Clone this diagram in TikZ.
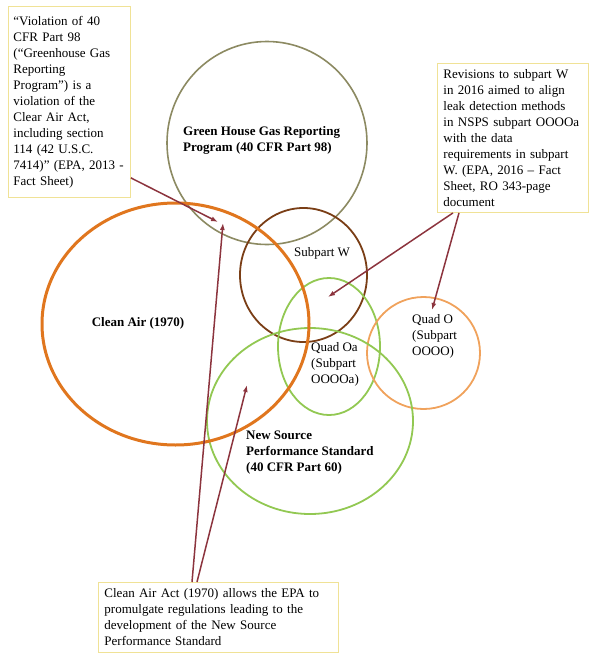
\documentclass[tikz,border=0pt]{standalone}
\usepackage{fontspec}
\setmainfont{Liberation Serif}
\usepackage{tikz}
\usetikzlibrary{shapes.geometric}
\usetikzlibrary{arrows.meta}
\definecolor{ghgcol}{RGB}{140,138,98}
\definecolor{caacol}{RGB}{224,118,30}
\definecolor{subwcol}{RGB}{122,62,22}
\definecolor{quadgreen}{RGB}{146,200,82}
\definecolor{quadocol}{RGB}{240,162,92}
\definecolor{arrcol}{RGB}{140,52,62}
\definecolor{notecol}{RGB}{240,226,150}
\tikzset{ set_ring/.style = {ellipse, inner sep=0pt, outer sep=0pt} }
\tikzset{ note_box/.style = {rectangle, draw=notecol, line width=0.9pt, fill=white, align=left, inner xsep=6pt, anchor=north west, font=\fontsize{13}{16}\selectfont} }
\tikzset{ set_label/.style = {align=left, inner sep=0pt, font=\fontsize{13}{16}\selectfont} }
\tikzset{ note_arrow/.style = {draw=arrcol, line width=1.5pt, -{Latex[length=7pt,width=5pt]}} }

\begin{document}
\begin{tikzpicture}[x=1pt,y=-1pt]
            \useasboundingbox (0,0) rectangle (600,661);
            % sets
                    \node [style=set_ring, draw=ghgcol, line width=1.6pt, minimum width=200, minimum height=203] (ghg) at (267,143) {};
                    \node [style=set_ring, draw=subwcol, line width=1.8pt, minimum width=127, minimum height=134] (subw) at (303.5,275) {};
                    \node [style=set_ring, draw=quadgreen, line width=1.8pt, minimum width=102, minimum height=137] (quadoa) at (329,346.5) {};
                    \node [style=set_ring, draw=quadocol, line width=1.8pt, minimum width=113, minimum height=112] (quado) at (423.5,353) {};
                    \node [style=set_ring, draw=quadgreen, line width=1.8pt, minimum width=206, minimum height=186] (nsps) at (310,421) {};
                    \node [style=set_ring, draw=caacol, line width=3pt, minimum width=267, minimum height=242] (caa) at (175.5,324) {};
            % set labels
                    \node [style=set_label, anchor=west, font=\fontsize{13}{16}\selectfont\bfseries] (ghg_lbl) at (183,140) {Green House Gas Reporting\\Program (40 CFR Part 98)};
                    \node [style=set_label, font=\fontsize{13}{16}\selectfont\bfseries] (caa_lbl) at (138,323) {Clean Air (1970)};
                    \node [style=set_label] (subw_lbl) at (322,253) {Subpart W};
                    \node [style=set_label, anchor=west] (quadoa_lbl) at (311,364) {Quad Oa\\(Subpart\\OOOOa)};
                    \node [style=set_label, anchor=west] (quado_lbl) at (412,336) {Quad O\\(Subpart\\OOOO)};
                    \node [style=set_label, anchor=west, font=\fontsize{13}{16}\selectfont\bfseries] (nsps_lbl) at (246,453) {New Source\\Performance Standard\\(40 CFR Part 60)};
            % notes
                    \node [style=note_box, inner xsep=5pt, text width=112pt, minimum height=191pt] (note_ghg) at (8,6) {“Violation of 40\\CFR Part 98\\(“Greenhouse Gas\\Reporting\\Program”) is a\\violation of the\\Clear Air Act,\\including section\\114 (42 U.S.C.\\7414)” (EPA,~2013~-\\Fact Sheet)};
                    \node [style=note_box, text width=139pt, minimum height=149pt] (note_w) at (437,63) {Revisions to subpart W\\in 2016 aimed to align\\leak detection methods\\in NSPS subpart OOOOa\\with the data\\requirements in subpart\\W. (EPA, 2016 – Fact\\Sheet, RO 343-page\\document};
                    \node [style=note_box, text width=228pt, minimum height=70pt] (note_caa) at (98,582) {Clean Air Act (1970) allows the EPA to\\promulgate regulations leading to the\\development of the New Source\\Performance Standard};
            % arrows
                    \coordinate (tip_ghg_a) at (218,222);
                    \coordinate (tip_ghg_b) at (223,223);
                    \coordinate (tip_nsps) at (247,385);
                    \coordinate (tip_quadoa) at (328,297);
                    \coordinate (tip_quado) at (432,310);
                    \draw[style=note_arrow] ([yshift=20pt]note_ghg.south east) to (tip_ghg_a);
                    \draw[style=note_arrow] ([xshift=94pt]note_caa.north west) to (tip_ghg_b);
                    \draw[style=note_arrow] ([xshift=99pt]note_caa.north west) to (tip_nsps);
                    \draw[style=note_arrow] ([xshift=16pt]note_w.south west) to (tip_quadoa);
                    \draw[style=note_arrow] ([xshift=22pt]note_w.south west) to (tip_quado);
\end{tikzpicture}
\end{document}
